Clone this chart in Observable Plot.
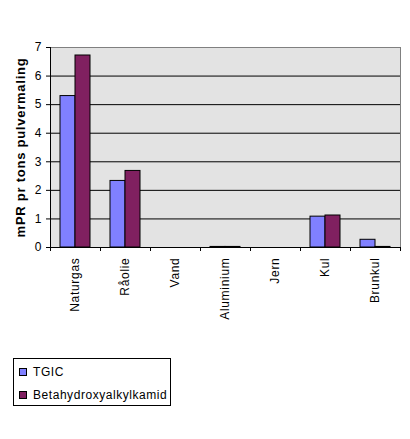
<!DOCTYPE html>
<html>
<head>
<meta charset="utf-8">
<script src="https://cdn.jsdelivr.net/npm/d3@7"></script>
<script src="https://cdn.jsdelivr.net/npm/@observablehq/plot@0.6"></script>
<style>
  body { margin: 0; background: #fff; font-family: "Liberation Sans", Arial, sans-serif; }
  #chart svg { font-size: 12px !important; font-family: "Liberation Sans", Arial, sans-serif !important; }
  #chart svg text { font-size: 12px; font-family: "Liberation Sans", Arial, sans-serif; }
  #chart g[aria-label="x-axis tick label"] text { letter-spacing: 0.7px; }
  #chart g[aria-label="y-axis label"] text { font-weight: bold; font-size: 13px; letter-spacing: 0.75px; }
  .legend { margin: 8px 0 0 13px; width: 156px; height: 46px; border: 1px solid #000; position: relative; font-size: 12px; }
  .legend .item { position: absolute; left: 5px; display: flex; align-items: center; letter-spacing: 0.55px; }
  .legend .sw { width: 6px; height: 6px; border: 1px solid #000; margin-right: 6px; }
</style>
</head>
<body>
<div id="chart"></div>
<script>
const categories = ["Naturgas", "Råolie", "Vand", "Aluminium", "Jern", "Kul", "Brunkul"];
const seriesNames = ["TGIC", "Betahydroxyalkylkamid"];
const tgic = [5.3, 2.33, 0, 0.02, 0, 1.08, 0.27];
const beta = [6.72, 2.68, 0, 0.02, 0, 1.12, 0.02];
const colors = ["#8080FF", "#802060"];
const yTicks = [0, 1, 2, 3, 4, 5, 6, 7];

const rowsT = categories.map((c, i) => ({category: c, value: tgic[i]}));
const rowsB = categories.map((c, i) => ({category: c, value: beta[i]}));

const plot = Plot.plot({
  width: 410,
  height: 350,
  marginTop: 47,
  marginBottom: 103,
  marginLeft: 50,
  marginRight: 10,
  style: {fontSize: "12px", background: "transparent"},
  x: {domain: categories, padding: 0},
  y: {domain: [0, 7]},
  marks: [
    Plot.frame({fill: "#E3E3E3", stroke: "#808080"}),
    Plot.ruleY(yTicks.filter(t => t > 0 && t < 7), {stroke: "#000"}),
    Plot.barY(rowsT, {x: "category", y: "value", fill: colors[0], stroke: "#000", strokeWidth: 1, insetLeft: 10, insetRight: 25}),
    Plot.barY(rowsB, {x: "category", y: "value", fill: colors[1], stroke: "#000", strokeWidth: 1, insetLeft: 25, insetRight: 10}),
    Plot.ruleY([0], {stroke: "#000"}),
    Plot.frame({anchor: "left", stroke: "#000"}),
    Plot.axisY({ticks: yTicks, tickFormat: d => String(d), tickSize: 4, tickPadding: 5, label: "mPR pr tons pulvermaling", labelAnchor: "center", labelArrow: false, labelOffset: 35}),
    Plot.axisX({tickSize: 0, tickRotate: -90, tickPadding: 10, label: null}),
    Plot.axisX({tickSize: 4, tickFormat: () => "", dx: -25, label: null}),
    Plot.axisX({tickSize: 4, tickFormat: () => "", dx: 25, label: null})
  ]
});
document.getElementById("chart").appendChild(plot);

const legend = document.createElement("div");
legend.className = "legend";
seriesNames.forEach((name, i) => {
  const item = document.createElement("div");
  item.className = "item";
  item.style.top = (6 + i * 23) + "px";
  const sw = document.createElement("div");
  sw.className = "sw";
  sw.style.background = colors[i];
  const label = document.createElement("span");
  label.textContent = name;
  item.appendChild(sw);
  item.appendChild(label);
  legend.appendChild(item);
});
document.body.appendChild(legend);
</script>
</body>
</html>
